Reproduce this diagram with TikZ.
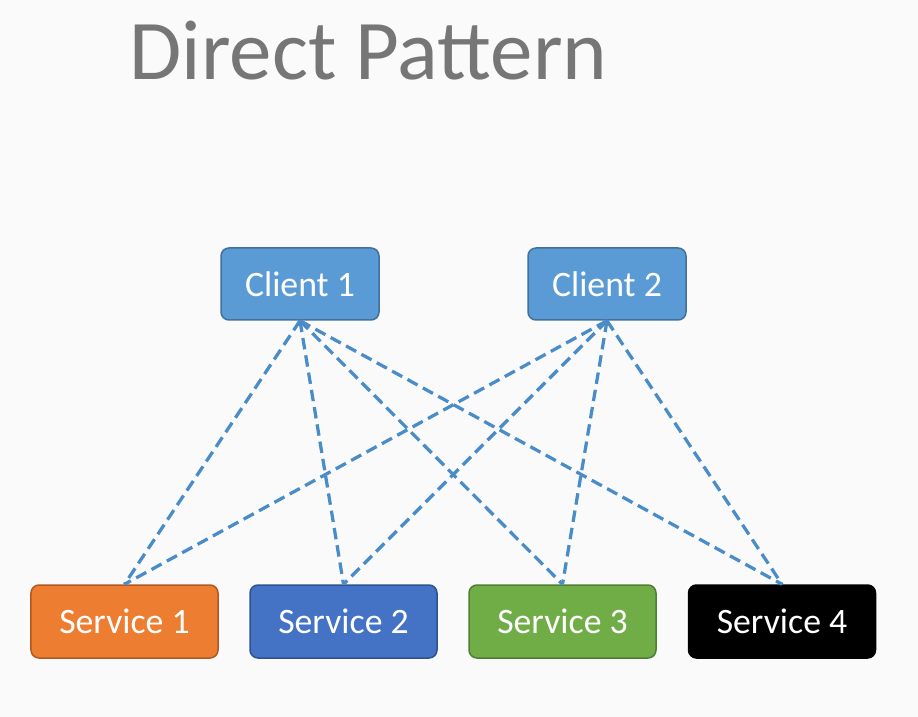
\documentclass[tikz,border=0pt]{standalone}
\usepackage{fontspec}
\setmainfont{Carlito}
\usepackage{xcolor}
\usetikzlibrary{positioning,calc}

\definecolor{clientblue}{HTML}{5B9BD5}
\definecolor{clientedge}{HTML}{41719C}
\definecolor{svcorange}{HTML}{ED7D31}
\definecolor{svcorangeedge}{HTML}{AE5A21}
\definecolor{svcblue}{HTML}{4472C4}
\definecolor{svcblueedge}{HTML}{2F528F}
\definecolor{svcgreen}{HTML}{70AD47}
\definecolor{svcgreenedge}{HTML}{507E32}
\definecolor{linkblue}{HTML}{4A8CC8}
\definecolor{titlegray}{HTML}{767676}

\begin{document}
\begin{tikzpicture}[
    x=0.4pt, y=-0.4pt,
    client/.style={rectangle, draw=clientedge, fill=clientblue, line width=0.6pt,
                   rounded corners=3.2pt, minimum width=63.2pt, minimum height=28.8pt,
                   text=white, font=\fontsize{14.3}{16}\selectfont},
    service/.style={rectangle, line width=0.6pt, rounded corners=3.2pt,
                    minimum width=74.8pt, minimum height=29.2pt,
                    text=white, font=\fontsize{14.3}{16}\selectfont},
    link/.style={linkblue, line width=1.3pt, dash pattern=on 4.6pt off 2.4pt},
    titl/.style={text=titlegray, font=\fontsize{34}{40}\selectfont, anchor=base west, inner sep=0pt},
  ]

  % ===== background =====
  \fill[black!2] (0,0) rectangle (918,717);
  \useasboundingbox (0,0) rectangle (918,717);

  % ===== title =====
  \node[titl] (title) at (129,80) {Direct Pattern};

  % ===== clients =====
  \node[client] (c1) at (300,284) {Client 1};
  \node[client] (c2) at (607,284) {Client 2};

  % ===== services =====
  \node[service, fill=svcorange, draw=svcorangeedge] (s1) at (124.5,621.5) {Service 1};
  \node[service, fill=svcblue, draw=svcblueedge] (s2) at (343.5,621.5) {Service 2};
  \node[service, fill=svcgreen, draw=svcgreenedge] (s3) at (562.5,621.5) {Service 3};
  \node[service, fill=black, draw=black] (s4) at (782,621.5) {Service 4};

  % ===== direct links =====
  \draw[link] (c1.south) -- (s1.north);
  \draw[link] (c1.south) -- (s2.north);
  \draw[link] (c1.south) -- (s3.north);
  \draw[link] (c1.south) -- (s4.north);
  \draw[link] (c2.south) -- (s1.north);
  \draw[link] (c2.south) -- (s2.north);
  \draw[link] (c2.south) -- (s3.north);
  \draw[link] (c2.south) -- (s4.north);

\end{tikzpicture}
\end{document}
